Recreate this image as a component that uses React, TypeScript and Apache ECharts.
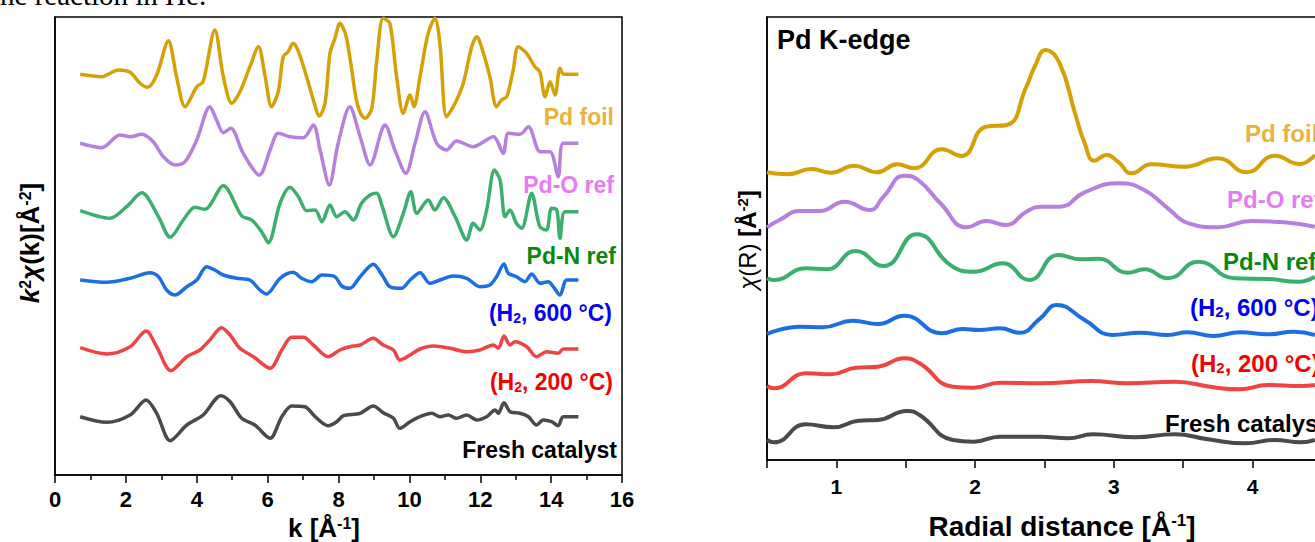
import React, { useEffect, useRef } from "react";
import * as echarts from "echarts";

// ---------------- k-space panel (left) ----------------
const K_TICK_MIN = 0;
const K_TICK_MAX = 16;
const K_OFFSETS = [40.07, 33.17, 26.4, 19.5, 12.6, 5.83];

const K_FOIL_K = [0.71,1.32,1.79,2.12,2.40,2.61,2.87,3.20,3.43,3.67,4.00,4.18,4.51,4.75,4.99,5.22,5.50,5.74,5.93,6.11,6.30,6.44,6.58,6.72,6.87,7.10,7.29,7.46,7.62,7.76,7.90,8.04,8.20,8.35,8.50,8.62,8.75,8.94,9.08,9.26,9.45,9.64,9.83,10.02,10.13,10.30,10.53,10.72,10.86,11.05,11.29,11.52,11.76,11.90,12.09,12.27,12.46,12.60,12.75,12.93,13.07,13.31,13.54,13.68,13.83,13.97,14.11,14.25,14.36,14.77];
const K_FOIL_V = [0,-0.24,0.43,0.2,-0.9,-1.3,-0.07,3.36,-0.24,-3.24,-1.24,-0.74,4.43,-0.24,-2.9,-1.74,0.76,2.76,-0.24,-3.24,-1.74,1.76,2.26,3.1,2.26,-0.24,-2.57,-4.17,-2.9,2.1,3.6,5.1,4.0,1.0,-2.5,-3.9,-4.4,-3.4,1.4,5.6,5.1,-0.24,-3.9,-2.07,-3.24,-0.24,4.1,5.6,3.1,-4.24,-2.9,-0.9,2.76,3.76,2.1,-0.24,-3.24,-2.57,-2.24,0.43,2.76,2.1,0.76,0.26,-2.24,-0.74,-2.07,0.6,0,0];

const K_PDO_K = [0.71,1.32,1.83,2.12,2.45,2.77,3.06,3.39,3.67,4.00,4.37,4.56,4.75,4.96,5.31,5.77,6.07,6.30,6.63,7.01,7.29,7.48,7.74,7.99,8.32,8.61,8.89,9.22,9.31,9.59,9.90,10.16,10.44,10.77,11.05,11.33,11.80,12.37,12.65,12.79,13.12,13.36,13.69,13.97,14.20,14.34,14.77];
const K_PDO_V = [0,-0.44,0.83,0.66,0.9,0.16,-1.34,-2.17,-1.84,0.33,3.66,2.33,1.06,1.5,-1.0,-3.17,-0.67,1.0,0.66,0.56,1.83,-0.67,-4.17,0,3.66,0.66,-2.17,1.33,1.83,-0.67,-3.0,0,3.16,0,-0.67,0.23,-0.34,0.66,-1.0,1.0,0.9,1.66,-0.84,-0.84,-3.34,0,0];

const K_PDN_K = [0.71,1.55,2.02,2.45,2.92,3.25,3.62,3.95,4.23,4.75,5.27,5.55,5.83,6.02,6.35,6.63,6.87,7.10,7.34,7.53,7.76,7.95,8.18,8.42,8.65,8.89,9.08,9.22,9.55,9.83,10.04,10.21,10.53,10.72,10.96,11.29,11.62,11.80,11.99,12.18,12.40,12.56,12.70,12.84,13.02,13.17,13.45,13.68,13.87,14.01,14.16,14.25,14.39,14.77];
const K_PDN_V = [0.03,-0.73,0.43,1.83,-0.57,-2.63,-0.9,0.37,0.17,2.53,-0.5,-0.9,-2.07,-3.17,0.77,2.37,1.43,0.03,0.1,-1.07,0.6,-0.57,-0.07,-0.9,0.77,1.6,1.77,0.6,-2.57,-0.23,1.93,-0.23,1.1,0.1,1.33,-0.57,-2.9,-1.23,-1.9,0.1,4.1,3.1,-0.57,0.1,-1.23,-1.73,1.77,-1.57,-1.9,0.27,0.1,-2.73,-0.07,-0.07];

const K_H600_K = [0.71,1.46,2.12,2.68,2.92,3.15,3.39,3.72,4.00,4.28,4.51,4.75,5.13,5.50,5.78,5.97,6.35,6.72,6.96,7.24,7.53,7.90,8.09,8.32,8.61,8.98,9.26,9.45,9.78,10.02,10.30,10.58,10.86,11.24,11.62,11.99,12.27,12.46,12.67,12.79,13.02,13.26,13.45,13.69,13.92,14.06,14.25,14.44,14.77];
const K_H600_V = [0,-0.23,0.17,0.73,0.33,-1.0,-1.5,-0.67,0,1.33,1.0,0.5,0.17,0,-1.0,-1.4,0.17,0.77,0.17,-0.17,0.5,0.33,-0.6,-0.83,0.33,1.57,0.33,-0.67,-0.83,0,0.73,-0.33,0,0.4,0.17,-0.67,-0.5,0.33,1.6,0.67,0.33,-0.17,0.6,-0.33,-0.17,-0.67,-1.5,0,0];

const K_H200_K = [0.71,1.46,2.12,2.57,2.87,3.27,3.72,4.09,4.37,4.70,4.94,5.22,5.60,6.07,6.40,6.68,7.01,7.29,7.71,8.04,8.32,8.61,8.98,9.26,9.55,9.73,10.02,10.30,10.68,11.15,11.62,11.99,12.37,12.51,12.67,12.84,12.98,13.31,13.59,13.87,14.20,14.34,14.77];
const K_H200_V = [0.13,-0.5,0.23,1.8,0.23,-2.17,-0.77,-0.1,0.9,2.13,1.4,0.07,-0.77,-1.93,-0.1,1.17,1.17,0.4,-0.77,-0.1,0.23,0.4,1.07,0.4,-0.1,-1.1,-0.6,0,0.3,0.07,-0.27,-0.1,0.4,0.07,1.3,0.4,0.73,0.23,-0.77,-0.27,-0.43,0,0];

const K_FRESH_K = [0.71,1.46,2.12,2.57,2.87,3.25,3.72,4.18,4.68,4.94,5.27,5.64,6.07,6.40,6.68,7.05,7.34,7.71,7.95,8.14,8.61,8.98,9.26,9.55,9.73,10.02,10.30,10.63,10.86,11.10,11.33,11.62,11.90,12.18,12.42,12.51,12.67,12.84,13.12,13.36,13.59,13.78,14.01,14.20,14.34,14.77];
const K_FRESH_V = [0,-0.56,0.17,1.67,0.34,-2.4,-0.83,0.17,2.1,1.5,-0.16,-0.83,-2.16,0,1.07,1.0,0,-0.9,-0.5,0.1,0.34,1.07,0.4,-0.16,-1.16,-0.5,0,0.34,0,0.17,-0.16,0.17,-0.33,0,0.67,0.34,1.4,0.5,0.34,0,-0.83,-0.33,-0.5,-0.9,0,0];

// ---------------- R-space panel (right) ----------------
const R_TICK_MIN = 0.5;
const R_TICK_MAX = 4.75;
const R_OFFSETS = [28.8, 23.3, 18.2, 12.6, 7.4, 2.0];

const R_FOIL_R = [0.50,0.65,0.82,0.96,1.13,1.29,1.44,1.56,1.76,1.90,2.08,2.23,2.37,2.43,2.51,2.61,2.72,2.79,2.86,2.95,3.03,3.13,3.27,3.51,3.75,3.96,4.16,4.34,4.45];
const R_FOIL_V = [-0.03,-0.23,0.3,-0.07,0.63,-0.03,0.77,0.37,2.27,1.6,4.53,4.7,8.53,10.53,12.2,10.87,5.9,2.9,1.13,1.7,1.03,-0.13,0.77,0.53,1.37,-0.03,1.63,0.8,1.7];

const R_PDO_R = [0.50,0.59,0.74,0.88,1.06,1.24,1.34,1.49,1.59,1.75,1.94,2.08,2.22,2.37,2.47,2.61,2.79,3.04,3.22,3.39,3.54,3.75,3.99,4.23,4.45];
const R_PDO_V = [-0.03,0.7,1.6,1.6,2.53,1.7,3.03,5.13,4.7,2.37,-0.03,0.6,0.2,1.53,2.03,2.03,3.47,4.37,3.7,1.87,0.37,-0.03,0.6,0.47,0.03];

const R_PDN_R = [0.50,0.55,0.78,0.93,1.14,1.34,1.58,1.84,1.99,2.20,2.39,2.60,2.77,2.89,3.10,3.22,3.39,3.61,3.87,4.11,4.33,4.45];
const R_PDN_V = [-0.03,-0.2,0.97,0.87,2.7,1.2,4.37,1.13,0.63,1.47,-0.2,2.3,1.87,1.93,0.53,0.87,-0.03,1.63,-0.03,-0.1,-0.37,0.13];

const R_H600_R = [0.50,0.74,0.90,1.12,1.30,1.49,1.76,1.91,2.03,2.18,2.32,2.47,2.59,2.79,2.99,3.19,3.39,3.53,3.72,3.91,4.11,4.30,4.45];
const R_H600_V = [0,0.73,0.67,1.33,1.0,1.83,0.07,0.5,0.4,0.57,0.13,1.57,2.9,1.4,-0.1,0.13,-0.1,0.17,-0.2,0.17,-0.03,0.23,-0.1];

const R_H200_R = [0.50,0.55,0.78,0.96,1.14,1.30,1.49,1.60,1.84,1.99,2.18,2.47,2.84,3.10,3.44,3.72,3.91,4.11,4.35,4.45];
const R_H200_V = [0,-0.23,1.27,1.17,1.83,1.93,2.77,2.27,-0.07,-0.17,0.33,0.27,0.5,0.27,0.43,-0.13,-0.33,0.1,0,0.1];

const R_FRESH_R = [0.50,0.55,0.78,0.98,1.16,1.30,1.51,1.60,1.84,1.99,2.18,2.47,2.67,2.85,3.15,3.44,3.68,3.95,4.16,4.35,4.45];
const R_FRESH_V = [0,-0.23,1.57,1.27,1.93,2.0,2.9,2.5,0,-0.17,0.33,0.33,0.17,0.57,0.27,0.57,0.07,-0.33,0,-0.23,0];

const SAMPLE_LABELS = ["Pd foil", "Pd-O ref", "Pd-N ref", "(H2, 600 °C)", "(H2, 200 °C)", "Fresh catalyst"];

// ---------------- styles / layout ----------------
const FONT = '"Liberation Sans", Arial, Helvetica, sans-serif';
const LINE_COLORS = ["#D4A106", "#B77FE0", "#3CAE6E", "#1C6FE0", "#EE4444", "#4A4A4A"];
const LABEL_COLORS = ["#E9B33C", "#E57CF2", "#0A880A", "#0000F5", "#F50000", "#000000"];
const LEFT_LABEL_POS = [[614, 117], [614, 185], [616, 256], [612, 313], [613, 382], [617, 450]];
const RIGHT_LABEL_POS = [[1245, 133], [1227, 199], [1223, 261], [1190, 307], [1191, 363], [1165, 423]];
const CANVAS_W = 1400;
const CANVAS_H = 542;

const richSet = (S: number, color: string) => ({
  m: { fontSize: S, fontWeight: "bold", fontFamily: FONT, fill: color, lineHeight: S },
  mi: { fontSize: S, fontWeight: "bold", fontStyle: "italic", fontFamily: FONT, fill: color, lineHeight: S },
  r: { fontSize: S, fontWeight: "normal", fontFamily: FONT, fill: color, lineHeight: S },
  ri: { fontSize: S, fontWeight: "normal", fontStyle: "italic", fontFamily: FONT, fill: color, lineHeight: S },
  sub: {
    fontSize: Math.round(S * 0.62), fontWeight: "bold", fontFamily: FONT, fill: color,
    lineHeight: Math.round(S * 0.62), padding: [Math.round(S * 0.9), 0, 0, 0], verticalAlign: "bottom",
  },
  sup: {
    fontSize: Math.round(S * 0.62), fontWeight: "bold", fontFamily: FONT, fill: color,
    lineHeight: Math.round(S * 0.62), padding: [0, 0, Math.round(S * 0.72), 0], verticalAlign: "top",
  },
});

const toRich = (s: string) => "{m|" + s.replace("H2", "H}{sub|2}{m|") + "}";

const richText = (
  text: string, x: number, y: number, S: number, color: string,
  align: string, rotation = 0
) => ({
  type: "text",
  x, y, rotation,
  silent: true,
  style: {
    text,
    rich: richSet(S, color),
    fill: color,
    font: `bold ${S}px ${FONT}`,
    align, textAlign: align,
    verticalAlign: "middle", textVerticalAlign: "middle",
  },
});

function buildOption() {
  const kSets = [
    [K_FOIL_K, K_FOIL_V], [K_PDO_K, K_PDO_V], [K_PDN_K, K_PDN_V],
    [K_H600_K, K_H600_V], [K_H200_K, K_H200_V], [K_FRESH_K, K_FRESH_V],
  ];
  const rSets = [
    [R_FOIL_R, R_FOIL_V], [R_PDO_R, R_PDO_V], [R_PDN_R, R_PDN_V],
    [R_H600_R, R_H600_V], [R_H200_R, R_H200_V], [R_FRESH_R, R_FRESH_V],
  ];

  const series: any[] = [];
  kSets.forEach(([xs, vs], i) => {
    series.push({
      type: "line", name: SAMPLE_LABELS[i] + " k", xAxisIndex: 0, yAxisIndex: 0,
      showSymbol: false, symbol: "none", smooth: 0.3, silent: true,
      lineStyle: { color: LINE_COLORS[i], width: 3.5 },
      data: xs.map((x, j) => [x, K_OFFSETS[i] + vs[j]]),
    });
  });
  rSets.forEach(([xs, vs], i) => {
    series.push({
      type: "line", name: SAMPLE_LABELS[i] + " R", xAxisIndex: 1, yAxisIndex: 1,
      showSymbol: false, symbol: "none", smooth: 0.5, silent: true,
      lineStyle: { color: LINE_COLORS[i], width: 4 },
      data: xs.map((x, j) => [x, R_OFFSETS[i] + vs[j]]),
    });
  });

  const axisLine = { show: true, lineStyle: { color: "#000", width: 1.5 } };
  const labelStyle = { color: "#000", fontFamily: FONT, fontWeight: "bold" };

  const graphic: any[] = [
    {
      type: "text", x: -8, y: -5, silent: true,
      style: {
        text: "the reaction in He.", font: '29px "Liberation Serif", "Times New Roman", serif',
        fill: "#000", align: "left", verticalAlign: "middle",
        textAlign: "left", textVerticalAlign: "middle",
      },
    },
    richText("{mi|k}{sup|2}{mi|χ}{m|(k)[Å}{sup|-2}{m|]}", 30, 243, 26, "#000", "center", Math.PI / 2),
    richText("{ri|χ}{r|(R) }{m|[Å}{sup|-2}{m|]}", 747, 240, 24, "#000", "center", Math.PI / 2),
    richText("{m|k [Å}{sup|-1}{m|]}", 324, 528, 26, "#000", "center"),
    richText("{m|Radial distance [Å}{sup|-1}{m|]}", 1062, 526, 28, "#000", "center"),
    richText("{m|Pd K-edge}", 777, 40, 27, "#000", "left"),
  ];
  SAMPLE_LABELS.forEach((s, i) => {
    graphic.push(richText(toRich(s), LEFT_LABEL_POS[i][0], LEFT_LABEL_POS[i][1], 23, LABEL_COLORS[i], "right"));
    graphic.push(richText(toRich(s), RIGHT_LABEL_POS[i][0], RIGHT_LABEL_POS[i][1], 24, LABEL_COLORS[i], "left"));
  });

  return {
    animation: false,
    backgroundColor: "#fff",
    grid: [
      { left: 55, top: 17, width: 567, height: 458, show: true, borderColor: "#000", borderWidth: 1.5, backgroundColor: "transparent" },
      { left: 767, top: 17, width: 589.5, height: 443, show: true, borderColor: "#000", borderWidth: 1.5, backgroundColor: "transparent" },
    ],
    xAxis: [
      {
        type: "value", gridIndex: 0, min: K_TICK_MIN, max: K_TICK_MAX, interval: 2,
        axisLine, splitLine: { show: false },
        axisTick: { show: true, length: 8, lineStyle: { color: "#000", width: 1.5 } },
        minorTick: { show: true, splitNumber: 2, length: 5, lineStyle: { color: "#000", width: 1.5 } },
        axisLabel: { ...labelStyle, fontSize: 22, margin: 13 },
      },
      {
        type: "value", gridIndex: 1, min: R_TICK_MIN, max: R_TICK_MAX, interval: 0.5,
        axisLine, splitLine: { show: false },
        axisTick: { show: true, length: 8, lineStyle: { color: "#000", width: 1.5 } },
        axisLabel: {
          ...labelStyle, fontSize: 21, margin: 16,
          formatter: (v: number) => (Math.abs(v - Math.round(v)) < 1e-6 ? String(Math.round(v)) : ""),
        },
      },
    ],
    yAxis: [
      {
        type: "value", gridIndex: 0, min: 0, max: 45.8,
        axisLine, axisTick: { show: false }, axisLabel: { show: false }, splitLine: { show: false },
      },
      {
        type: "value", gridIndex: 1, min: 0, max: 44.3,
        axisLine, axisTick: { show: false }, axisLabel: { show: false }, splitLine: { show: false },
      },
    ],
    series,
    graphic,
  };
}

export default function App() {
  const ref = useRef<HTMLDivElement>(null);
  useEffect(() => {
    if (!ref.current) return;
    const chart = echarts.init(ref.current, null, { renderer: "svg" });
    chart.setOption(buildOption() as any);
    return () => chart.dispose();
  }, []);
  return (
    <div
      style={{ position: "fixed", left: 0, top: 0, width: 1315, height: 542, background: "#fff", overflow: "hidden" }}
    >
      <div ref={ref} style={{ width: CANVAS_W, height: CANVAS_H }} />
    </div>
  );
}
